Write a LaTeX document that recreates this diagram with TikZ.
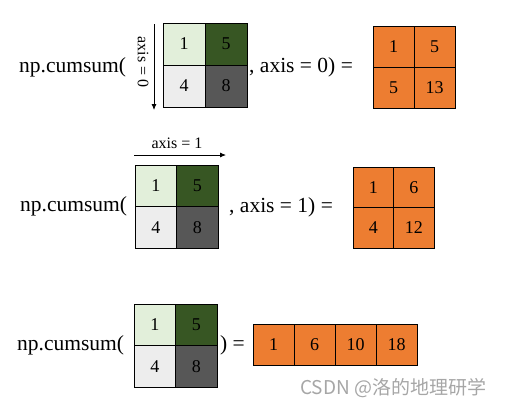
\documentclass[tikz,border=0pt]{standalone}
\usepackage{fontspec}
\setmainfont{Liberation Serif}
\newfontfamily\cjkfont{Noto Sans CJK SC}
\usetikzlibrary{arrows.meta}
\definecolor{lgreen}{HTML}{E2EFDA}
\definecolor{dgreen}{HTML}{375623}
\definecolor{lgray}{HTML}{EDEDED}
\definecolor{dgray}{HTML}{575757}
\definecolor{orng}{HTML}{ED7D31}
\definecolor{wmark}{HTML}{A6A6A6}
\begin{document}
\begin{tikzpicture}[x=1pt,y=-1pt,
  cellbox/.style={draw=black,line width=0.8pt,inner sep=0pt,minimum width=#1,minimum height=#1,
    font=\fontsize{18}{20}\selectfont},
  mtext/.style={inner sep=0pt,anchor=west,font=\fontsize{21.5}{24}\selectfont},
  axlabel/.style={inner sep=0pt,font=\fontsize{16}{18}\selectfont},
  axarrow/.style={line width=0.8pt,-{Latex[length=6pt,width=5pt]}}]
\useasboundingbox (0,0) rectangle (505,407);

% ---------- Row 1 ----------
\node[mtext] (t1a) at (19,67) {np.cumsum(};
\node[cellbox=42pt,fill=lgreen] (a11) at (184,44) {1};
\node[cellbox=42pt,fill=dgreen] (a12) at (226,44) {5};
\node[cellbox=42pt,fill=lgray] (a21) at (184,86) {4};
\node[cellbox=42pt,fill=dgray] (a22) at (226,86) {8};
\coordinate (ar1s) at (154,24);
\coordinate (ar1e) at (154,110);
\draw[axarrow] (ar1s) -- (ar1e);
\node[axlabel,rotate=-90] (l1) at (143,62) {axis = 0};
\node[mtext] (t1b) at (249,67) {, axis = 0) =};
\node[cellbox=41pt,fill=orng] (r11) at (393.5,46.5) {1};
\node[cellbox=41pt,fill=orng] (r12) at (434.5,46.5) {5};
\node[cellbox=41pt,fill=orng] (r21) at (393.5,87.5) {5};
\node[cellbox=41pt,fill=orng] (r22) at (434.5,87.5) {13};

% ---------- Row 2 ----------
\node[mtext] (t2a) at (20,206) {np.cumsum(};
\node[cellbox=41.5pt,fill=lgreen] (b11) at (155.75,185.75) {1};
\node[cellbox=41.5pt,fill=dgreen] (b12) at (197.25,185.75) {5};
\node[cellbox=41.5pt,fill=lgray] (b21) at (155.75,227.25) {4};
\node[cellbox=41.5pt,fill=dgray] (b22) at (197.25,227.25) {8};
\coordinate (ar2s) at (134,155);
\coordinate (ar2e) at (226,155);
\draw[axarrow] (ar2s) -- (ar2e);
\node[axlabel] (l2) at (177,143) {axis = 1};
\node[mtext] (t2b) at (229,207) {, axis = 1) =};
\node[cellbox=40.5pt,fill=orng] (s11) at (373.25,187.25) {1};
\node[cellbox=40.5pt,fill=orng] (s12) at (413.75,187.25) {6};
\node[cellbox=40.5pt,fill=orng] (s21) at (373.25,227.75) {4};
\node[cellbox=40.5pt,fill=orng] (s22) at (413.75,227.75) {12};

% ---------- Row 3 ----------
\node[mtext] (t3a) at (17,345) {np.cumsum(};
\node[cellbox=41.5pt,fill=lgreen] (c11) at (154.75,324.75) {1};
\node[cellbox=41.5pt,fill=dgreen] (c12) at (196.25,324.75) {5};
\node[cellbox=41.5pt,fill=lgray] (c21) at (154.75,366.25) {4};
\node[cellbox=41.5pt,fill=dgray] (c22) at (196.25,366.25) {8};
\node[mtext] (t3b) at (220,345) {) =};
\node[cellbox=41pt,fill=orng] (u1) at (273.5,344.5) {1};
\node[cellbox=41pt,fill=orng] (u2) at (314.5,344.5) {6};
\node[cellbox=41pt,fill=orng] (u3) at (355.5,344.5) {10};
\node[cellbox=41pt,fill=orng] (u4) at (396.5,344.5) {18};

% watermark
\node[inner sep=0pt,anchor=west,text=wmark,font=\cjkfont\fontsize{19}{21}\selectfont] (wm) at (300,388) {CSDN @洛的地理研学};
\end{tikzpicture}
\end{document}
